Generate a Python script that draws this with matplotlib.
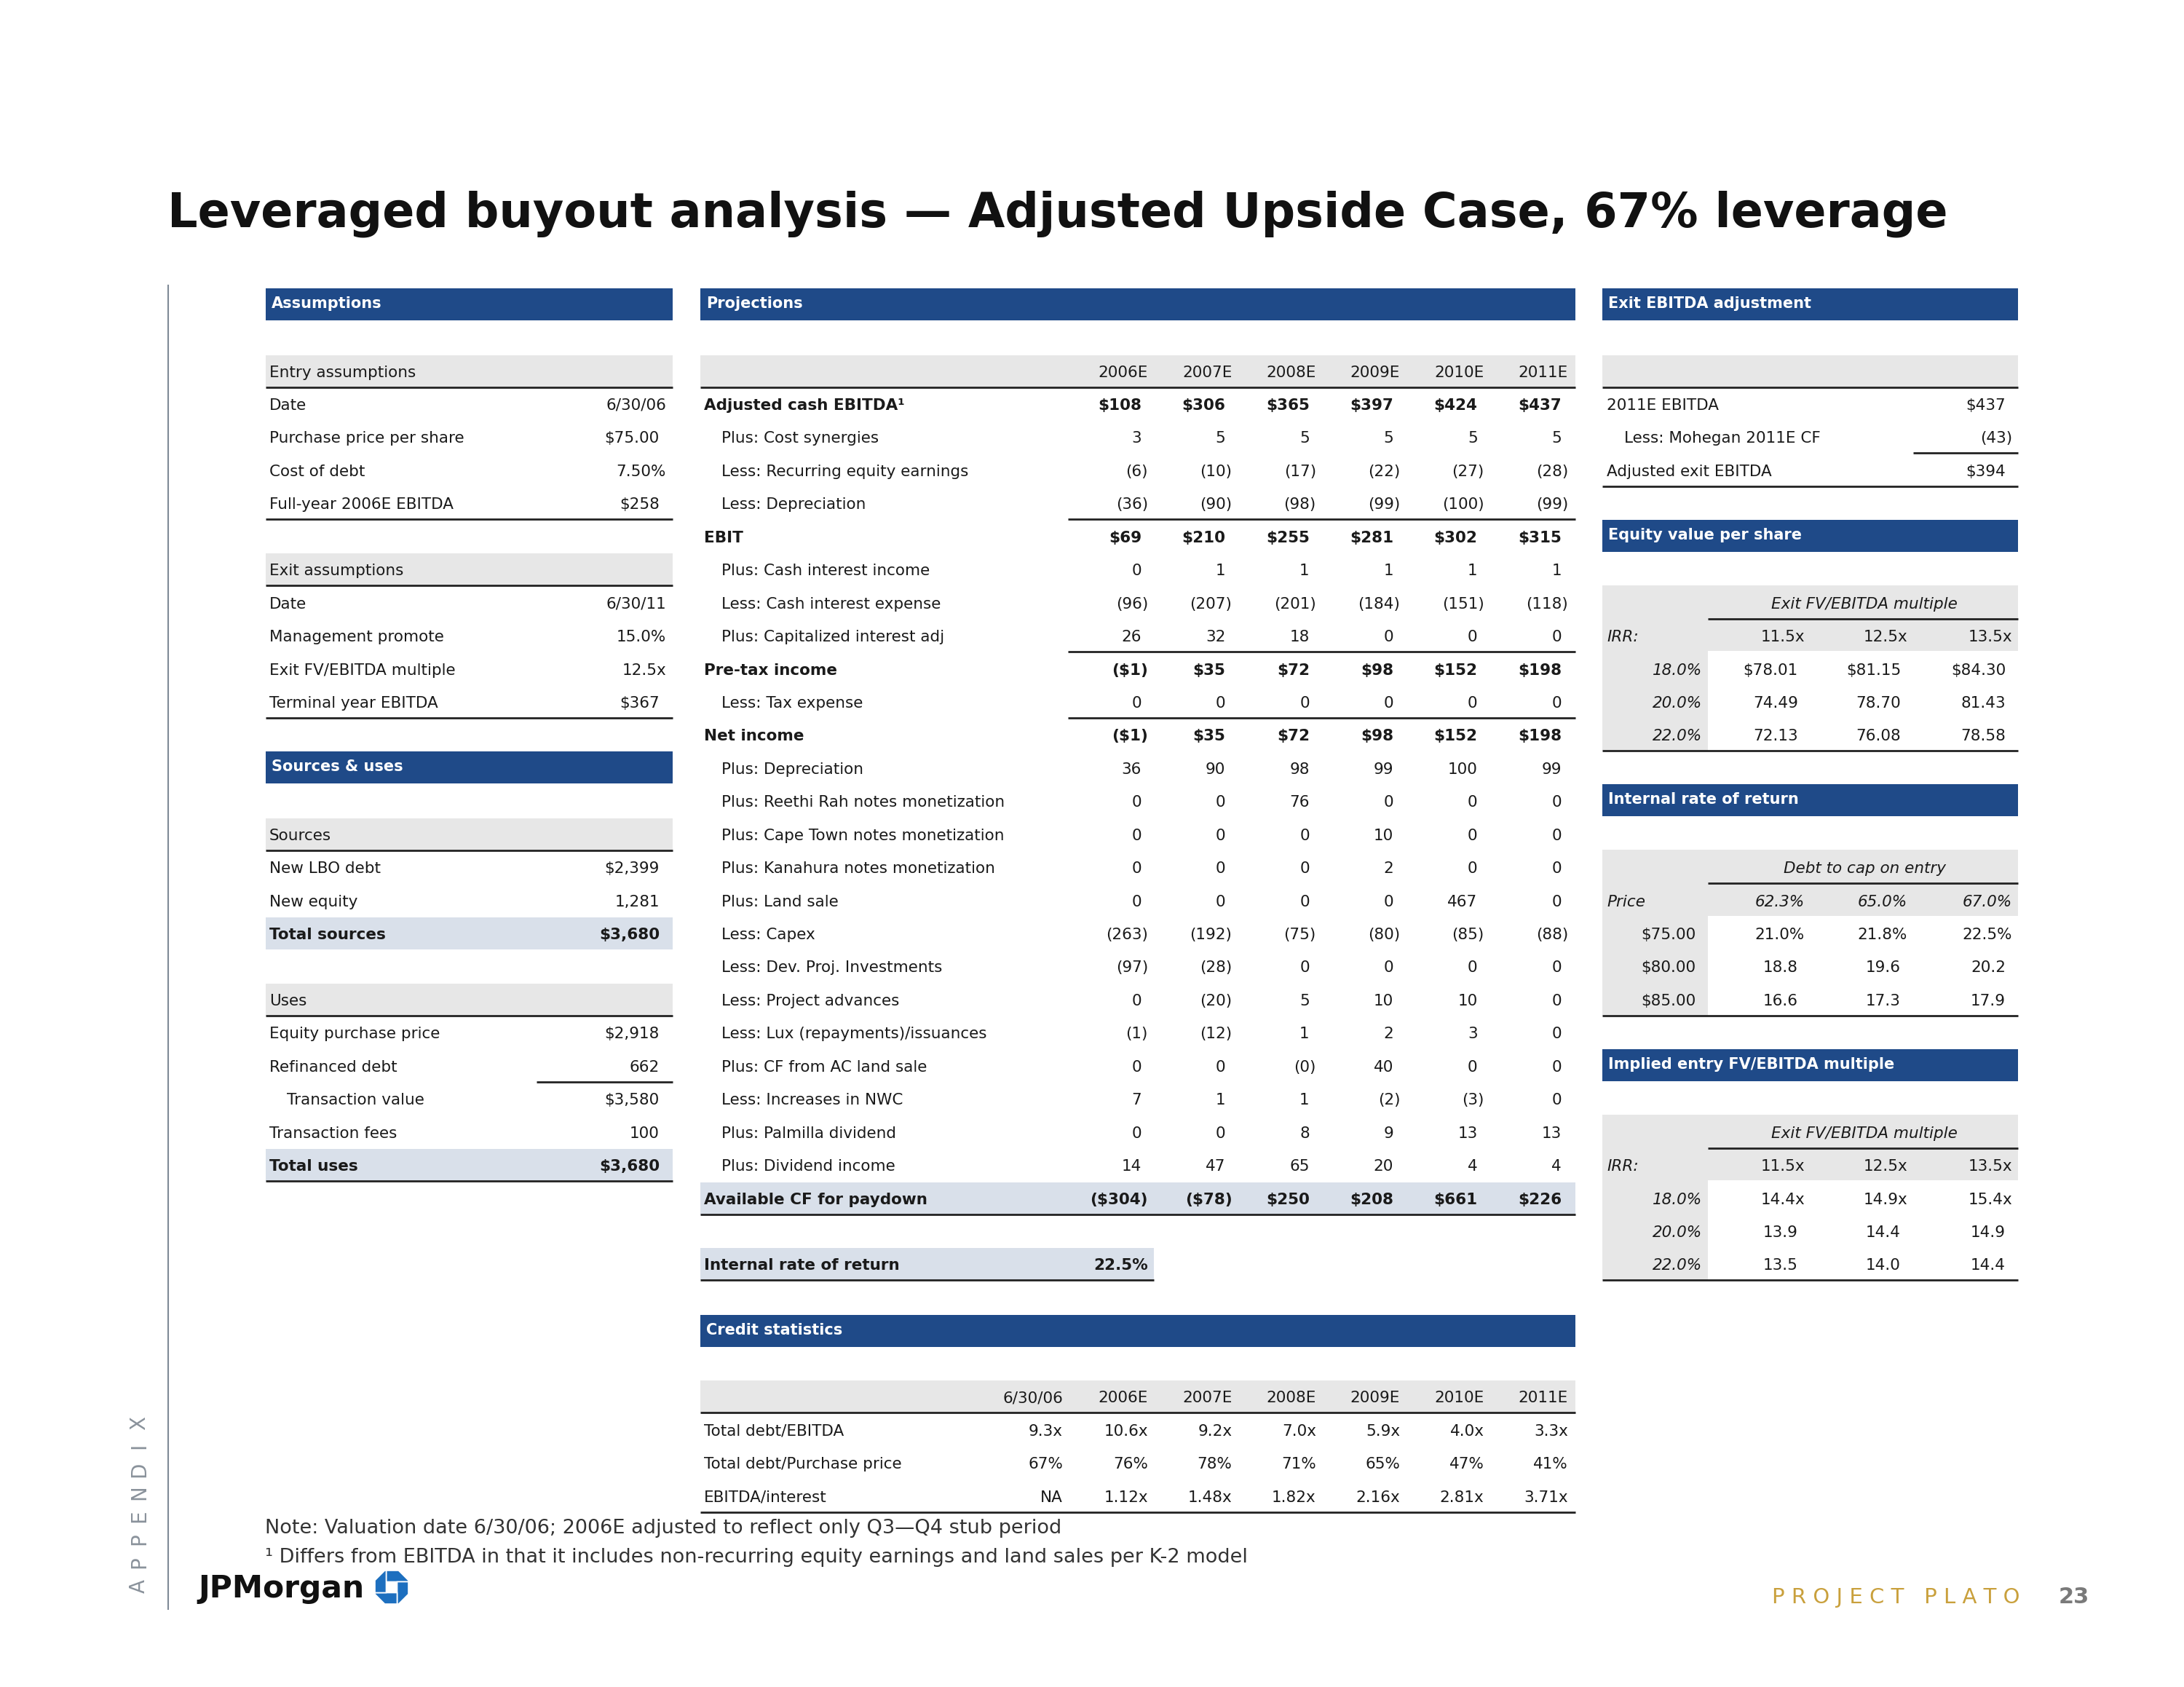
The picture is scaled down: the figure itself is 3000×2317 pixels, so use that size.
import matplotlib
matplotlib.use("Agg")
import matplotlib.pyplot as plt
from matplotlib.patches import Rectangle, Polygon

# ---------------- data ----------------
years = ['2006E', '2007E', '2008E', '2009E', '2010E', '2011E']

entry_labels = ['Date', 'Purchase price per share', 'Cost of debt', 'Full-year 2006E EBITDA']
entry_values = ['6/30/06', '$75.00', '7.50%', '$258']
exit_labels = ['Date', 'Management promote', 'Exit FV/EBITDA multiple', 'Terminal year EBITDA']
exit_values = ['6/30/11', '15.0%', '12.5x', '$367']

sources_labels = ['New LBO debt', 'New equity', 'Total sources']
sources_values = ['$2,399', '1,281', '$3,680']
uses_labels = ['Equity purchase price', 'Refinanced debt', 'Transaction value',
               'Transaction fees', 'Total uses']
uses_values = ['$2,918', '662', '$3,580', '100', '$3,680']

adj_ebitda = [108, 306, 365, 397, 424, 437]
cost_synergies = [3, 5, 5, 5, 5, 5]
recurring_equity = [-6, -10, -17, -22, -27, -28]
less_depreciation = [-36, -90, -98, -99, -100, -99]
ebit = [69, 210, 255, 281, 302, 315]
interest_income = [0, 1, 1, 1, 1, 1]
interest_expense = [-96, -207, -201, -184, -151, -118]
capitalized_interest = [26, 32, 18, 0, 0, 0]
pretax_income = [-1, 35, 72, 98, 152, 198]
tax_expense = [0, 0, 0, 0, 0, 0]
net_income = [-1, 35, 72, 98, 152, 198]
plus_depreciation = [36, 90, 98, 99, 100, 99]
reethi_rah = [0, 0, 76, 0, 0, 0]
cape_town = [0, 0, 0, 10, 0, 0]
kanahura = [0, 0, 0, 2, 0, 0]
land_sale = [0, 0, 0, 0, 467, 0]
capex = [-263, -192, -75, -80, -85, -88]
dev_proj = [-97, -28, 0, 0, 0, 0]
project_advances = [0, -20, 5, 10, 10, 0]
lux_issuances = [-1, -12, 1, 2, 3, 0]
ac_land_sale = [0, 0, -0.4, 40, 0, 0]
nwc_increase = [7, 1, 1, -2, -3, 0]
palmilla = [0, 0, 8, 9, 13, 13]
dividend_income = [14, 47, 65, 20, 4, 4]
available_cf = [-304, -78, 250, 208, 661, 226]

irr_value = 22.5

credit_cols = ['6/30/06'] + years
debt_ebitda = [9.3, 10.6, 9.2, 7.0, 5.9, 4.0, 3.3]
debt_price = [67, 76, 78, 71, 65, 47, 41]
ebitda_interest = [None, 1.12, 1.48, 1.82, 2.16, 2.81, 3.71]

ebitda_2011 = 437
mohegan_cf = -43
adj_exit_ebitda = 394

exit_multiples = [11.5, 12.5, 13.5]
irr_rates = [18.0, 20.0, 22.0]
equity_per_share = [[78.01, 81.15, 84.30],
                    [74.49, 78.70, 81.43],
                    [72.13, 76.08, 78.58]]

debt_to_cap = [62.3, 65.0, 67.0]
entry_prices = [75.0, 80.0, 85.0]
irr_grid = [[21.0, 21.8, 22.5],
            [18.8, 19.6, 20.2],
            [16.6, 17.3, 17.9]]

implied_multiple = [[14.4, 14.9, 15.4],
                    [13.9, 14.4, 14.9],
                    [13.5, 14.0, 14.4]]

# ---------------- styling ----------------
NAVY = '#1f4a88'
GRAY = '#e7e7e7'
SHADE = '#d9e0ea'
INK = '#1a1a1a'
FS = 15.5

fig = plt.figure(figsize=(30, 23.17), dpi=100)
ax = fig.add_axes([0, 0, 1, 1])
ax.set_xlim(0, 3000)
ax.set_ylim(2317, 0)
ax.axis('off')


def Y(k):
    return 557 + 45.44 * k


def fmt(v, dollar=False):
    txt = ('$' if dollar else '') + f'{int(round(abs(v))):,}'
    return f'({txt})' if v < 0 else txt


def num(x, k, txt, **kw):
    # accounting alignment: plain numbers sit left of the hanging ")", "%" or "x"
    if txt[-1].isdigit() and '/' not in txt:
        x -= 9
    ax.text(x, Y(k), txt, ha='right', va='center', fontsize=kw.pop('fontsize', FS),
            color=INK, **kw)


def label(x, k, txt, **kw):
    ax.text(x, Y(k), txt, ha='left', va='center', fontsize=kw.pop('fontsize', FS),
            color=INK, **kw)


def bar(x0, x1, k, title):
    ax.add_patch(Rectangle((x0, Y(k) - 22), x1 - x0, 44, color=NAVY, lw=0))
    ax.text(x0 + 8, Y(k) - 1, title, ha='left', va='center', fontsize=15,
            fontweight='bold', color='white')


def band(x0, x1, k, color=GRAY):
    ax.add_patch(Rectangle((x0, Y(k) - 24), x1 - x0, 44, color=color, lw=0))


def rule(x0, x1, k):
    ax.plot([x0, x1], [Y(k) + 20] * 2, color='#222222', lw=2, solid_capstyle='butt')


# ---------------- title & frame ----------------
ax.text(230, 294, 'Leveraged buyout analysis \u2014 Adjusted Upside Case, 67% leverage',
        fontsize=47, fontweight='bold', va='center', ha='left', color='#111111')
ax.plot([231, 231], [392, 2210], color='#7f8a96', lw=1.5)
for i, ch in enumerate('APPENDIX'):
    ax.text(191, 2178 - i * 32, ch, rotation=90, ha='center', va='center',
            fontsize=20, color='#8a929b')

# ---------------- assumptions ----------------
LX0, LX1, LL, LV = 365, 924, 370, 915
bar(LX0, LX1, -3.05, 'Assumptions')
band(LX0, LX1, -1)
label(LL, -1, 'Entry assumptions')
rule(LX0, LX1, -1)
for i, (lab, val) in enumerate(zip(entry_labels, entry_values)):
    label(LL, i, lab)
    num(LV, i, val)
rule(LX0, LX1, 3)

band(LX0, LX1, 5)
label(LL, 5, 'Exit assumptions')
rule(LX0, LX1, 5)
for i, (lab, val) in enumerate(zip(exit_labels, exit_values)):
    label(LL, 6 + i, lab)
    num(LV, 6 + i, val)
rule(LX0, LX1, 9)

bar(LX0, LX1, 10.93, 'Sources & uses')
band(LX0, LX1, 13)
label(LL, 13, 'Sources')
rule(LX0, LX1, 13)
for i, (lab, val) in enumerate(zip(sources_labels, sources_values)):
    k = 14 + i
    bold = lab.startswith('Total')
    if bold:
        band(LX0, LX1, k, SHADE)
    label(LL, k, lab, fontweight='bold' if bold else 'normal')
    num(LV, k, val, fontweight='bold' if bold else 'normal')

band(LX0, LX1, 18)
label(LL, 18, 'Uses')
rule(LX0, LX1, 18)
for i, (lab, val) in enumerate(zip(uses_labels, uses_values)):
    k = 19 + i
    bold = lab.startswith('Total')
    if bold:
        band(LX0, LX1, k, SHADE)
    x = LL + 24 if lab == 'Transaction value' else LL
    label(x, k, lab, fontweight='bold' if bold else 'normal')
    num(LV, k, val, fontweight='bold' if bold else 'normal')
rule(737, LX1, 20)
rule(LX0, LX1, 23)

# ---------------- projections ----------------
PX0, PX1, PL, PI = 962, 2164, 967, 991
pcols = [1577 + 115.4 * i for i in range(len(years))]
bar(PX0, PX1, -3.05, 'Projections')
band(PX0, PX1, -1)
for x, yr in zip(pcols, years):
    num(x, -1, yr)
rule(PX0, PX1, -1)

proj_rows = [
    ('Adjusted cash EBITDA\u00b9', adj_ebitda, True),
    ('Plus: Cost synergies', cost_synergies, False),
    ('Less: Recurring equity earnings', recurring_equity, False),
    ('Less: Depreciation', less_depreciation, False),
    ('EBIT', ebit, True),
    ('Plus: Cash interest income', interest_income, False),
    ('Less: Cash interest expense', interest_expense, False),
    ('Plus: Capitalized interest adj', capitalized_interest, False),
    ('Pre-tax income', pretax_income, True),
    ('Less: Tax expense', tax_expense, False),
    ('Net income', net_income, True),
    ('Plus: Depreciation', plus_depreciation, False),
    ('Plus: Reethi Rah notes monetization', reethi_rah, False),
    ('Plus: Cape Town notes monetization', cape_town, False),
    ('Plus: Kanahura notes monetization', kanahura, False),
    ('Plus: Land sale', land_sale, False),
    ('Less: Capex', capex, False),
    ('Less: Dev. Proj. Investments', dev_proj, False),
    ('Less: Project advances', project_advances, False),
    ('Less: Lux (repayments)/issuances', lux_issuances, False),
    ('Plus: CF from AC land sale', ac_land_sale, False),
    ('Less: Increases in NWC', nwc_increase, False),
    ('Plus: Palmilla dividend', palmilla, False),
    ('Plus: Dividend income', dividend_income, False),
    ('Available CF for paydown', available_cf, True),
]
band(PX0, PX1, len(proj_rows) - 1, SHADE)
for k, (lab, vals, bold) in enumerate(proj_rows):
    w = 'bold' if bold else 'normal'
    label(PL if bold else PI, k, lab, fontweight=w)
    for x, v in zip(pcols, vals):
        num(x, k, fmt(v, dollar=bold), fontweight=w)
for k in (3, 7, 9):
    rule(1467, PX1, k)
rule(PX0, PX1, len(proj_rows) - 1)

# IRR box
band(PX0, 1585, 26, SHADE)
label(PL, 26, 'Internal rate of return', fontweight='bold')
num(1577, 26, f'{irr_value:.1f}%', fontweight='bold')
rule(PX0, 1585, 26)

# credit statistics
bar(PX0, PX1, 27.98, 'Credit statistics')
band(PX0, PX1, 30)
ccols = [1460] + pcols
for x, c in zip(ccols, credit_cols):
    num(x, 30, c)
rule(PX0, PX1, 30)
label(PL, 31, 'Total debt/EBITDA')
label(PL, 32, 'Total debt/Purchase price')
label(PL, 33, 'EBITDA/interest')
for x, a, b, c in zip(ccols, debt_ebitda, debt_price, ebitda_interest):
    num(x, 31, f'{a:.1f}x')
    num(x, 32, f'{b}%')
    num(x, 33, 'NA' if c is None else f'{c:.2f}x')
rule(PX0, PX1, 33)

# ---------------- right panel ----------------
RX0, RX1, RL, RV = 2201, 2772, 2207, 2764
bar(RX0, RX1, -3.05, 'Exit EBITDA adjustment')
band(RX0, RX1, -1)
rule(RX0, RX1, -1)
label(RL, 0, '2011E EBITDA')
num(RV, 0, fmt(ebitda_2011, True))
label(RL + 24, 1, 'Less: Mohegan 2011E CF')
num(RV, 1, fmt(mohegan_cf))
rule(2628, RX1, 1)
label(RL, 2, 'Adjusted exit EBITDA')
num(RV, 2, fmt(adj_exit_ebitda, True))
rule(RX0, RX1, 2)

scols = [2479, 2620, 2764]
LABCOL = 2346


def sens_table(k, bar_title, top_title, corner, col_txt, col_it, row_txt, row_it, grid_txt):
    bar(RX0, RX1, k - 2.07, bar_title)
    ax.add_patch(Rectangle((RX0, Y(k) - 26), RX1 - RX0, Y(k + 1) - Y(k) + 45,
                           color=GRAY, lw=0))
    ax.add_patch(Rectangle((RX0, Y(k + 1) + 19), LABCOL - RX0, Y(k + 4) - Y(k + 1) + 1,
                           color=GRAY, lw=0))
    ax.text((LABCOL + RX1) / 2 + 2, Y(k), top_title, ha='center', va='center',
            fontsize=FS, style='italic', color=INK)
    rule(LABCOL, RX1, k)
    label(RL, k + 1, corner, style='italic')
    for x, t in zip(scols, col_txt):
        num(x, k + 1, t, style='italic' if col_it else 'normal')
    for i, (rt, row) in enumerate(zip(row_txt, grid_txt)):
        num(2338, k + 2 + i, rt, style='italic' if row_it else 'normal')
        for x, t in zip(scols, row):
            num(x, k + 2 + i, t)
    rule(RX0, RX1, k + 4)


sens_table(6, 'Equity value per share', 'Exit FV/EBITDA multiple', 'IRR:',
           [f'{m:.1f}x' for m in exit_multiples], False,
           [f'{r:.1f}%' for r in irr_rates], True,
           [[(f'${v:.2f}' if i == 0 else f'{v:.2f}') for v in row]
            for i, row in enumerate(equity_per_share)])

sens_table(14, 'Internal rate of return', 'Debt to cap on entry', 'Price',
           [f'{d:.1f}%' for d in debt_to_cap], True,
           [f'${p:.2f}' for p in entry_prices], False,
           [[(f'{v:.1f}%' if i == 0 else f'{v:.1f}') for v in row]
            for i, row in enumerate(irr_grid)])

sens_table(22, 'Implied entry FV/EBITDA multiple', 'Exit FV/EBITDA multiple', 'IRR:',
           [f'{m:.1f}x' for m in exit_multiples], False,
           [f'{r:.1f}%' for r in irr_rates], True,
           [[(f'{v:.1f}x' if i == 0 else f'{v:.1f}') for v in row]
            for i, row in enumerate(implied_multiple)])

# ---------------- footer ----------------
ax.text(364, 2099, 'Note: Valuation date 6/30/06; 2006E adjusted to reflect only Q3\u2014Q4 stub period',
        fontsize=19.5, color='#333333', va='center', ha='left')
ax.text(364, 2139, '\u00b9 Differs from EBITDA in that it includes non-recurring equity earnings '
        'and land sales per K-2 model', fontsize=19.5, color='#333333', va='center', ha='left')

ax.text(272, 2182, 'JPMorgan', fontsize=30.5, fontweight='bold', color='#111111',
        va='center', ha='left')
# octagon mark next to the wordmark
cx, cy, R, c, s = 538, 2180, 23, 9.5, 7.5
piece = [(-s, s), (-s, R), (c, R), (R, c), (R, s)]
for rot in range(4):
    pts = piece
    for _ in range(rot):
        pts = [(yy, -xx) for xx, yy in pts]
    ax.add_patch(Polygon([(cx + px, cy - py) for px, py in pts], closed=True,
                         facecolor='#1d6fbf', edgecolor='white', lw=1.2))

ax.text(2774, 2194, 'P R O J E C T   P L A T O', fontsize=21, color='#c9a03c',
        ha='right', va='center')
ax.text(2870, 2194, '23', fontsize=22, fontweight='bold', color='#7a7a7a',
        ha='right', va='center')

fig.savefig('out.png', dpi=100, facecolor='white')
